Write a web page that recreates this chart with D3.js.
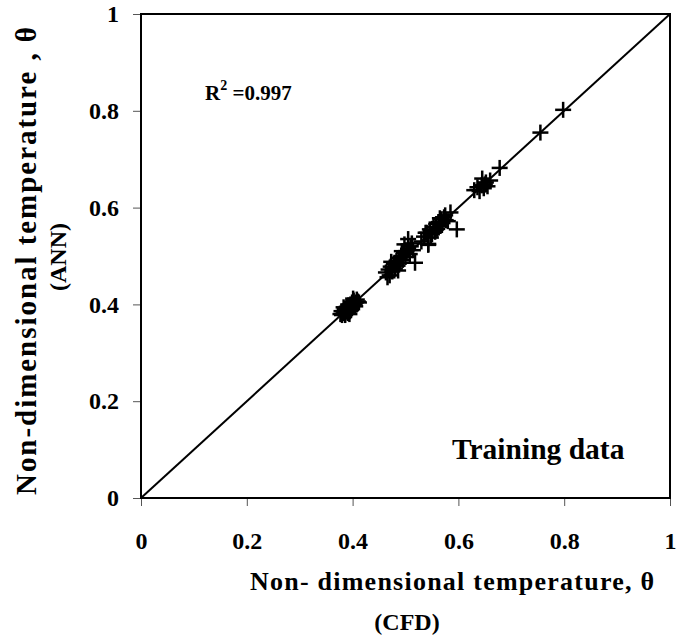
<!DOCTYPE html>
<html lang="en">
    <head>
        <meta charset="utf-8">
        <title>Training data parity plot</title>
        <script src="https://d3js.org/d3.v7.min.js"></script>
        <style type="text/css">
            body { margin: 0; background: #fff; }
            text { font-family: "Liberation Serif", "Times New Roman", serif; font-weight: bold; fill: #000; }
            .tick line { stroke: #555; }
            .domain { display: none; }
        </style>
    </head>
    <body>
        <script type="text/javascript">

            //chart size
            const w = 689;
            const h = 642;
            const plotLeft = 141, plotRight = 670, plotTop = 14, plotBottom = 498;

            //tick labels
            const ticks = [0, 0.2, 0.4, 0.6, 0.8, 1];
            const tickLabels = ["0", "0.2", "0.4", "0.6", "0.8", "1"];

            //data: CFD (x) vs ANN (y)
            const cfd = [
                0.377, 0.380, 0.382, 0.384, 0.385, 0.386, 0.388, 0.389, 0.390, 0.391,
                0.392, 0.393, 0.395, 0.396, 0.398, 0.399, 0.400, 0.402, 0.404, 0.406,
                0.408, 0.410, 0.412, 0.387, 0.394, 0.401, 0.383, 0.397, 0.379, 0.405,
                0.463, 0.468, 0.470, 0.472, 0.475, 0.478, 0.480, 0.483, 0.485, 0.488,
                0.490, 0.492, 0.495, 0.497, 0.500, 0.502, 0.505, 0.508, 0.510, 0.514,
                0.505, 0.518, 0.473, 0.486, 0.498, 0.466, 0.493, 0.512,
                0.530, 0.535, 0.540, 0.543, 0.546, 0.550, 0.553, 0.556, 0.558, 0.560,
                0.563, 0.566, 0.568, 0.570, 0.573, 0.576, 0.580, 0.585, 0.543, 0.597,
                0.555, 0.565, 0.538, 0.548, 0.575,
                0.630, 0.636, 0.640, 0.644, 0.648, 0.652, 0.655, 0.660, 0.678, 0.645,
                0.650,
                0.755, 0.798
            ];
            const ann = [
                0.380, 0.378, 0.386, 0.382, 0.390, 0.378, 0.385, 0.395, 0.388, 0.382,
                0.398, 0.392, 0.386, 0.400, 0.394, 0.404, 0.398, 0.408, 0.400, 0.404,
                0.410, 0.406, 0.404, 0.392, 0.380, 0.412, 0.394, 0.388, 0.386, 0.396,
                0.466, 0.472, 0.460, 0.478, 0.468, 0.484, 0.474, 0.490, 0.480, 0.496,
                0.486, 0.500, 0.492, 0.506, 0.498, 0.510, 0.515, 0.504, 0.520, 0.512,
                0.535, 0.486, 0.488, 0.470, 0.524, 0.456, 0.510, 0.526,
                0.530, 0.540, 0.548, 0.525, 0.555, 0.545, 0.560, 0.550, 0.566, 0.556,
                0.570, 0.562, 0.576, 0.568, 0.580, 0.574, 0.572, 0.590, 0.523, 0.555,
                0.552, 0.578, 0.548, 0.538, 0.584,
                0.636, 0.642, 0.634, 0.646, 0.640, 0.652, 0.644, 0.656, 0.682, 0.660,
                0.648,
                0.755, 0.802
            ];

            const points = cfd.map((d, i) => ({x: d, y: ann[i]}));

            //scales
            const xScale = d3.scaleLinear()
                                .domain([0, 1])
                                .range([plotLeft, plotRight]);

            const yScale = d3.scaleLinear()
                                .domain([0, 1])
                                .range([plotBottom, plotTop]);

            //SVG elements
            const svg = d3.select("body")
                    .append("svg")
                    .attr("width", w)
                    .attr("height", h)
                    .style("background-color", "#fff");

            //axes with outward ticks
            const bottomAxis = d3.axisBottom(xScale)
                                .tickValues(ticks)
                                .tickSize(8)
                                .tickFormat((d, i) => tickLabels[i]);

            const gx = svg.append("g")
                .attr("transform", "translate(0," + plotBottom + ")")
                .call(bottomAxis);
            gx.selectAll(".tick text")
                .attr("font-size", "24px")
                .attr("y", 43)
                .attr("dy", "0.32em");

            const leftAxis = d3.axisLeft(yScale)
                                .tickValues(ticks)
                                .tickSize(8)
                                .tickFormat((d, i) => tickLabels[i]);

            const gy = svg.append("g")
                .attr("transform", "translate(" + plotLeft + ",0)")
                .call(leftAxis);
            gy.selectAll(".tick text")
                .attr("font-size", "24px")
                .attr("x", -22);

            //plot frame
            svg.append("rect")
                .attr("x", plotLeft)
                .attr("y", plotTop)
                .attr("width", plotRight - plotLeft)
                .attr("height", plotBottom - plotTop)
                .attr("fill", "none")
                .attr("stroke", "#000")
                .attr("stroke-width", 2);

            //diagonal 1:1 line
            svg.append("line")
                .attr("x1", xScale(0))
                .attr("y1", yScale(0))
                .attr("x2", xScale(1))
                .attr("y2", yScale(1))
                .attr("stroke", "#000")
                .attr("stroke-width", 2);

            //plus markers
            const m = 8;
            const marks = svg.append("g")
                .selectAll("g")
                .data(points)
                .join("g")
                .attr("transform", d => "translate(" + xScale(d.x) + "," + yScale(d.y) + ")");
            marks.append("line")
                .attr("x1", -m).attr("x2", m)
                .attr("stroke", "#000").attr("stroke-width", 2.5);
            marks.append("line")
                .attr("y1", -m).attr("y2", m)
                .attr("stroke", "#000").attr("stroke-width", 2.5);

            //R squared
            const r2 = svg.append("text")
                .attr("x", 205)
                .attr("y", 100)
                .attr("font-size", "21px");
            r2.append("tspan").text("R");
            r2.append("tspan").attr("font-size", "14px").attr("dy", -10).text("2");
            r2.append("tspan").attr("dy", 10).text(" =0.997");

            //in-plot label
            svg.append("text")
                .attr("x", 452)
                .attr("y", 459)
                .attr("font-size", "29.5px")
                .text("Training data");

            //x axis title
            svg.append("text")
                .attr("x", 250)
                .attr("y", 590)
                .attr("font-size", "26px")
                .attr("textLength", 404)
                .attr("lengthAdjust", "spacing")
                .text("Non- dimensional temperature, θ");
            svg.append("text")
                .attr("x", 407)
                .attr("y", 630)
                .attr("text-anchor", "middle")
                .attr("font-size", "24px")
                .text("(CFD)");

            //y axis title
            svg.append("text")
                .attr("transform", "translate(36,495) rotate(-90)")
                .attr("font-size", "29px")
                .attr("textLength", 468)
                .attr("lengthAdjust", "spacing")
                .text("Non-dimensional temperature , θ");
            svg.append("text")
                .attr("transform", "translate(66,257) rotate(-90)")
                .attr("text-anchor", "middle")
                .attr("font-size", "24px")
                .text("(ANN)");

        </script>
    </body>
</html>
